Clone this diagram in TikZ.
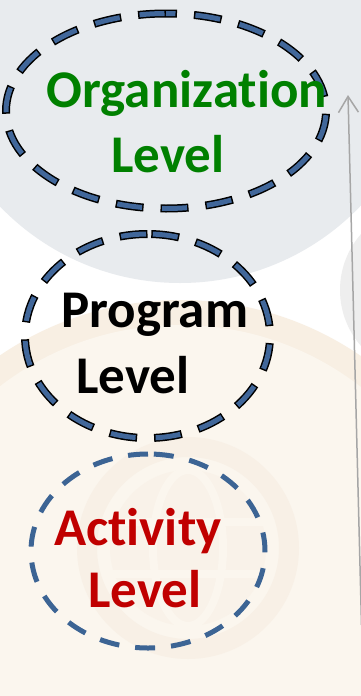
\documentclass[tikz,border=0pt]{standalone}
\usepackage{fontspec}
\setmainfont{Carlito}[Ligatures=NoCommon]
\usetikzlibrary{arrows.meta}
\definecolor{greybg}{HTML}{E8EBEE}
\definecolor{greyside}{HTML}{EEEEEE}
\definecolor{beigeband}{HTML}{F8EFE3}
\definecolor{beigein}{HTML}{FBF6EE}
\definecolor{globe}{HTML}{F8F0E6}
\definecolor{globein}{HTML}{F9F2E9}
\definecolor{dashblue}{HTML}{41679A}
\definecolor{actblue}{HTML}{3C6494}
\definecolor{orggreen}{HTML}{008000}
\definecolor{actred}{HTML}{C00000}
\definecolor{arrowgrey}{HTML}{A6A6A6}
\tikzset{
  ringout/.style={line width=8pt, draw=black, dash pattern=on 28pt off 17pt},
  ringin/.style={line width=5pt, draw=dashblue, dash pattern=on 25pt off 20pt, dash phase=43.5pt},
  ringact/.style={line width=5pt, draw=actblue, dash pattern=on 20pt off 16pt},
  lbl/.style={anchor=base west, inner sep=0pt, font=\fontsize{53}{60}\selectfont\bfseries},
  arrowline/.style={draw=arrowgrey, line width=1.5pt}
}
\begin{document}
\begin{tikzpicture}[x=1pt,y=-1pt]
\useasboundingbox (0,0) rectangle (361,696);
% background
\fill[white] (0,0) rectangle (361,696);
\fill[greyside] (425,290) circle[radius=85pt];
\fill[greybg] (180,33) circle[radius=250pt];
\fill[beigeband] (180,620) circle[radius=320pt];
\fill[beigein] (180,620) circle[radius=295pt];
% faint globe
\draw[globe, line width=20pt] (188,548) circle[radius=101pt];
\fill[globein] (188,548) circle[radius=78pt];
\draw[beigein, line width=8pt] (188,548) ellipse[x radius=35pt, y radius=78pt];
\draw[beigein, line width=8pt] (112,522) -- (264,522);
\draw[beigein, line width=8pt] (112,574) -- (264,574);
% ellipses
\draw[ringout] (166,13.5) arc[start angle=90, end angle=450, x radius=160pt, y radius=97.5pt];
\draw[ringin]  (166,13.5) arc[start angle=90, end angle=450, x radius=160pt, y radius=97.5pt];
\draw[ringout] (147.5,234) arc[start angle=90, end angle=450, x radius=122.5pt, y radius=102pt];
\draw[ringin]  (147.5,234) arc[start angle=90, end angle=450, x radius=122.5pt, y radius=102pt];
\draw[ringact] (148,454) arc[start angle=90, end angle=450, x radius=117pt, y radius=97pt];
% labels
\node[lbl, text=orggreen] (org1) at (46.5,107) {Organization};
\node[lbl, text=orggreen] (org2) at (111,172) {Level};
\node[lbl, text=black] (prog1) at (61,327) {Program};
\node[lbl, text=black] (prog2) at (76,393) {Level};
\node[lbl, text=actred] (act1) at (54,545) {Activity};
\node[lbl, text=actred] (act2) at (88,607) {Level};
% arrow
\coordinate (abot) at (361.5,625);
\coordinate (atop) at (348,95);
\draw[arrowline, -{Straight Barb[length=16pt, width=20pt]}] (abot) -- (atop);
\end{tikzpicture}
\end{document}
